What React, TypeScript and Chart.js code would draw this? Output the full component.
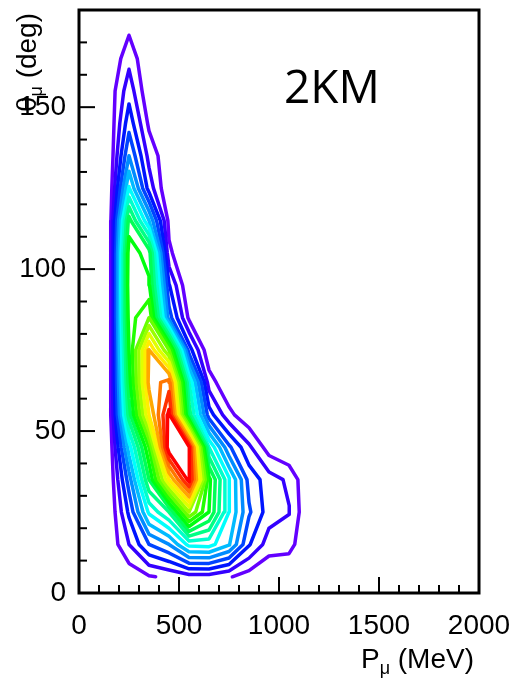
import { useEffect, useRef } from "react";
import { Chart, registerables } from "chart.js";

Chart.register(...registerables);

// Bin centres of the underlying 2D histogram (MeV, degrees)
const P_BINS = [50, 150, 250, 350, 450, 550, 650, 750, 850, 950, 1050, 1150];
const THETA_BINS = [175, 165, 155, 145, 135, 125, 115, 105, 95, 85, 75, 65, 55, 45, 35, 25, 15, 5];

// Estimated bin contents (in units of contour steps), one row per theta bin
const DENSITY: number[][] = [
  /* 175 */ [0, 0, 0.73, 0, 0, 0, 0, 0, 0, 0, 0, 0],
  /* 165 */ [0, 0, 1.7, 0, 0, 0, 0, 0, 0, 0, 0, 0],
  /* 155 */ [0, 0.3, 2.6, 0.15, 0, 0, 0, 0, 0, 0, 0, 0],
  /* 145 */ [0, 0.13, 3.6, 0.8, 0, 0, 0, 0, 0, 0, 0, 0],
  /* 135 */ [0, 0, 5.0, 1.67, 0.18, 0, 0, 0, 0, 0, 0, 0],
  /* 125 */ [0, 0, 7.1, 2.57, 0, 0, 0, 0, 0, 0, 0, 0],
  /* 115 */ [0, 0, 10.4, 6.0, 0.7, 0, 0, 0, 0, 0, 0, 0],
  /* 105 */ [0, 0.05, 11.6, 10.5, 1.2, 0, 0, 0, 0, 0, 0, 0],
  /*  95 */ [0, 0.05, 11.8, 11.2, 3.1, 0, 0, 0, 0, 0, 0, 0],
  /*  85 */ [0, 0.05, 11.5, 13, 4.5, 0.8, 0, 0, 0, 0, 0, 0],
  /*  75 */ [0, 0.05, 11, 17.05, 13, 3.5, 0.2, 0, 0, 0, 0, 0],
  /*  65 */ [0, 0.05, 10.5, 17.3, 18.5, 8, 1.5, 0.1, 0, 0, 0, 0],
  /*  55 */ [0, 0.1, 9.5, 16, 20.3, 9.5, 3.5, 1.3, 0.2, 0, 0, 0],
  /*  45 */ [0, 0.05, 6.5, 12, 20.8, 20.05, 8, 4.2, 2.2, 0.5, 0, 0],
  /*  35 */ [0, 0.05, 4.5, 10, 16, 20.4, 11.3, 7.15, 3.65, 2.47, 1.8, 0],
  /*  25 */ [0, 0.05, 3.2, 7.2, 9, 14, 11, 7, 4.15, 2.5, 2.05, 0],
  /*  15 */ [0, 0.2, 2.0, 4, 5, 7.3, 7.4, 6.1, 3.1, 1.5, 1.4, 0],
  /*   5 */ [0, 0, 0.3, 0.9, 1.2, 1.6, 1.6, 1.1, 0.5, 0.1, 0, 0],
];

const CONTOUR_LEVELS = [1, 2, 3, 4, 5, 6, 7, 8, 9, 10, 11, 12, 13, 14, 15, 16, 17, 18, 19, 20];
const LEVEL_COLORS = [
  "#6300ff", "#3300ff", "#0014ff", "#0044ff", "#008bff",
  "#00bbff", "#00fffc", "#00ffcc", "#00ff85", "#00ff55",
  "#00ff0e", "#22ff00", "#69ff00", "#99ff00", "#e0ff00",
  "#ffee00", "#ffa700", "#ff7700", "#ff3000", "#ff0000",
];

const X_TICKS = [0, 500, 1000, 1500, 2000];
const Y_TICKS = [0, 50, 100, 150];
const X_RANGE = [0, 2000];
const Y_RANGE = [0, 180];
const X_MINOR_STEP = 100;
const Y_MINOR_STEP = 10;

const FONT = "'Liberation Sans', Arial, Helvetica, sans-serif";

type Pt = [number, number];

function interp(p1: Pt, z1: number, p2: Pt, z2: number, L: number): Pt {
  const t = (L - z1) / (z2 - z1);
  return [p1[0] + t * (p2[0] - p1[0]), p1[1] + t * (p2[1] - p1[1])];
}

function contourLines(L: number): Pt[][] {
  const segs: [Pt, Pt][] = [];
  for (let j = 0; j < THETA_BINS.length - 1; j++) {
    for (let i = 0; i < P_BINS.length - 1; i++) {
      const pa: Pt = [P_BINS[i], THETA_BINS[j]];
      const pb: Pt = [P_BINS[i + 1], THETA_BINS[j]];
      const pc: Pt = [P_BINS[i + 1], THETA_BINS[j + 1]];
      const pd: Pt = [P_BINS[i], THETA_BINS[j + 1]];
      const za = DENSITY[j][i];
      const zb = DENSITY[j][i + 1];
      const zc = DENSITY[j + 1][i + 1];
      const zd = DENSITY[j + 1][i];
      const idx = (za > L ? 1 : 0) | (zb > L ? 2 : 0) | (zc > L ? 4 : 0) | (zd > L ? 8 : 0);
      if (idx === 0 || idx === 15) continue;
      const eAB = () => interp(pa, za, pb, zb, L);
      const eBC = () => interp(pb, zb, pc, zc, L);
      const eDC = () => interp(pd, zd, pc, zc, L);
      const eAD = () => interp(pa, za, pd, zd, L);
      const center = (za + zb + zc + zd) / 4;
      switch (idx) {
        case 1: case 14: segs.push([eAD(), eAB()]); break;
        case 2: case 13: segs.push([eAB(), eBC()]); break;
        case 3: case 12: segs.push([eAD(), eBC()]); break;
        case 4: case 11: segs.push([eBC(), eDC()]); break;
        case 6: case 9: segs.push([eAB(), eDC()]); break;
        case 7: case 8: segs.push([eAD(), eDC()]); break;
        case 5:
          if (center > L) { segs.push([eAB(), eBC()]); segs.push([eAD(), eDC()]); }
          else { segs.push([eAD(), eAB()]); segs.push([eBC(), eDC()]); }
          break;
        case 10:
          if (center > L) { segs.push([eAD(), eAB()]); segs.push([eBC(), eDC()]); }
          else { segs.push([eAB(), eBC()]); segs.push([eAD(), eDC()]); }
          break;
      }
    }
  }
  const key = (p: Pt) => p[0].toFixed(5) + "," + p[1].toFixed(5);
  const map = new Map<string, number[]>();
  segs.forEach((s, i) => {
    for (const p of s) {
      const k = key(p);
      if (!map.has(k)) map.set(k, []);
      map.get(k)!.push(i);
    }
  });
  const used = new Array(segs.length).fill(false);
  const lines: Pt[][] = [];
  for (let i = 0; i < segs.length; i++) {
    if (used[i]) continue;
    used[i] = true;
    const line: Pt[] = [segs[i][0], segs[i][1]];
    const extend = (atEnd: boolean) => {
      for (;;) {
        const p = atEnd ? line[line.length - 1] : line[0];
        const cand = (map.get(key(p)) || []).find((j) => !used[j]);
        if (cand === undefined) break;
        used[cand] = true;
        const s = segs[cand];
        const q = key(s[0]) === key(p) ? s[1] : s[0];
        if (atEnd) line.push(q);
        else line.unshift(q);
      }
    };
    extend(true);
    extend(false);
    lines.push(line);
  }
  return lines;
}

const framePlugin = {
  id: "rootFrame",
  afterDatasetsDraw(chart: any) {
    const { ctx, chartArea } = chart;
    const xs = chart.scales.x;
    const ys = chart.scales.y;
    ctx.save();
    ctx.strokeStyle = "#000";
    ctx.lineWidth = 2;
    for (let v = X_RANGE[0]; v <= X_RANGE[1]; v += X_MINOR_STEP) {
      const major = X_TICKS.includes(v);
      const px = xs.getPixelForValue(v);
      ctx.beginPath();
      ctx.moveTo(px, chartArea.bottom);
      ctx.lineTo(px, chartArea.bottom - (major ? 16 : 8));
      ctx.stroke();
    }
    for (let v = Y_RANGE[0]; v <= Y_RANGE[1]; v += Y_MINOR_STEP) {
      const major = Y_TICKS.includes(v);
      const py = ys.getPixelForValue(v);
      ctx.beginPath();
      ctx.moveTo(chartArea.left, py);
      ctx.lineTo(chartArea.left + (major ? 16 : 8), py);
      ctx.stroke();
    }
    ctx.lineWidth = 3;
    ctx.strokeRect(chartArea.left, chartArea.top, chartArea.right - chartArea.left, chartArea.bottom - chartArea.top);
    ctx.restore();
  },
  afterDraw(chart: any) {
    const { ctx } = chart;
    ctx.save();
    ctx.fillStyle = "#000";
    ctx.textBaseline = "alphabetic";
    ctx.font = `28px ${FONT}`;
    const wP = ctx.measureText("P").width;
    const wRest = ctx.measureText(" (MeV)").width;
    ctx.font = `18px ${FONT}`;
    const wMu = ctx.measureText("μ").width;
    const xEnd = 474;
    const base = 668;
    const x0 = xEnd - wRest - wMu - wP;
    ctx.font = `28px ${FONT}`;
    ctx.fillText("P", x0, base);
    ctx.font = `18px ${FONT}`;
    ctx.fillText("μ", x0 + wP, base + 6);
    ctx.font = `28px ${FONT}`;
    ctx.fillText(" (MeV)", x0 + wP + wMu, base);

    ctx.save();
    ctx.translate(36, 13);
    ctx.rotate(-Math.PI / 2);
    ctx.font = `28px ${FONT}`;
    const wT = ctx.measureText("θ").width;
    const wDeg = ctx.measureText(" (deg)").width;
    ctx.font = `18px ${FONT}`;
    const wMu2 = ctx.measureText("μ").width;
    const start = -(wT + wMu2 + wDeg);
    ctx.font = `28px ${FONT}`;
    ctx.fillText("θ", start, 0);
    ctx.font = `18px ${FONT}`;
    ctx.fillText("μ", start + wT, 6);
    ctx.font = `28px ${FONT}`;
    ctx.fillText(" (deg)", start + wT + wMu2, 0);
    ctx.restore();

    ctx.font = `46px 'Open Sans', 'DejaVu Sans', sans-serif`;
    ctx.fillText("2KM", 284, 103);
    ctx.restore();
  },
};

const zeroPad = (s: any) => {
  s.paddingLeft = 0;
  s.paddingRight = 0;
  s.paddingTop = 0;
  s.paddingBottom = 0;
};

export default function App() {
  const canvasRef = useRef<HTMLCanvasElement | null>(null);

  useEffect(() => {
    if (!canvasRef.current) return;
    const datasets = CONTOUR_LEVELS.map((L, k) => {
      const lines = contourLines(L);
      const data: { x: number; y: number | null }[] = [];
      lines.forEach((line) => {
        line.forEach((p) => data.push({ x: p[0], y: p[1] }));
        const last = line[line.length - 1];
        data.push({ x: last[0], y: null });
      });
      return {
        label: `level ${L}`,
        data,
        showLine: true,
        spanGaps: false,
        borderColor: LEVEL_COLORS[k],
        backgroundColor: LEVEL_COLORS[k],
        borderWidth: 3.5,
        borderCapStyle: "round" as const,
        borderJoinStyle: "round" as const,
        pointRadius: 0,
        pointHoverRadius: 0,
        tension: 0,
        order: CONTOUR_LEVELS.length - k,
      };
    });

    const chart = new Chart(canvasRef.current, {
      type: "scatter",
      data: { datasets: datasets as any },
      options: {
        animation: false,
        responsive: false,
        maintainAspectRatio: false,
        layout: { padding: { top: 10, right: 37, left: 0, bottom: 0 } },
        plugins: { legend: { display: false }, tooltip: { enabled: false } },
        scales: {
          x: {
            type: "linear",
            min: X_RANGE[0],
            max: X_RANGE[1],
            afterBuildTicks: (s: any) => {
              s.ticks = X_TICKS.map((v) => ({ value: v }));
            },
            afterFit: (s: any) => {
              s.height = 86;
              zeroPad(s);
            },
            grid: { display: false },
            border: { display: false },
            ticks: {
              autoSkip: false,
              maxRotation: 0,
              minRotation: 0,
              padding: 8,
              color: "#000",
              font: { family: FONT, size: 28 },
              callback: (v: any) => String(v),
            },
          },
          y: {
            type: "linear",
            min: Y_RANGE[0],
            max: Y_RANGE[1],
            afterBuildTicks: (s: any) => {
              s.ticks = Y_TICKS.map((v) => ({ value: v }));
            },
            afterFit: (s: any) => {
              s.width = 79;
              zeroPad(s);
            },
            grid: { display: false },
            border: { display: false },
            ticks: {
              autoSkip: false,
              padding: 5,
              color: "#000",
              font: { family: FONT, size: 28 },
              callback: (v: any) => String(v),
            },
          },
        },
      },
      plugins: [framePlugin],
    });
    return () => chart.destroy();
  }, []);

  return (
    <div style={{ position: "fixed", left: 0, top: 0, width: 516, height: 679, background: "#fff" }}>
      <canvas ref={canvasRef} width={516} height={679} style={{ width: 516, height: 679 }} />
    </div>
  );
}
